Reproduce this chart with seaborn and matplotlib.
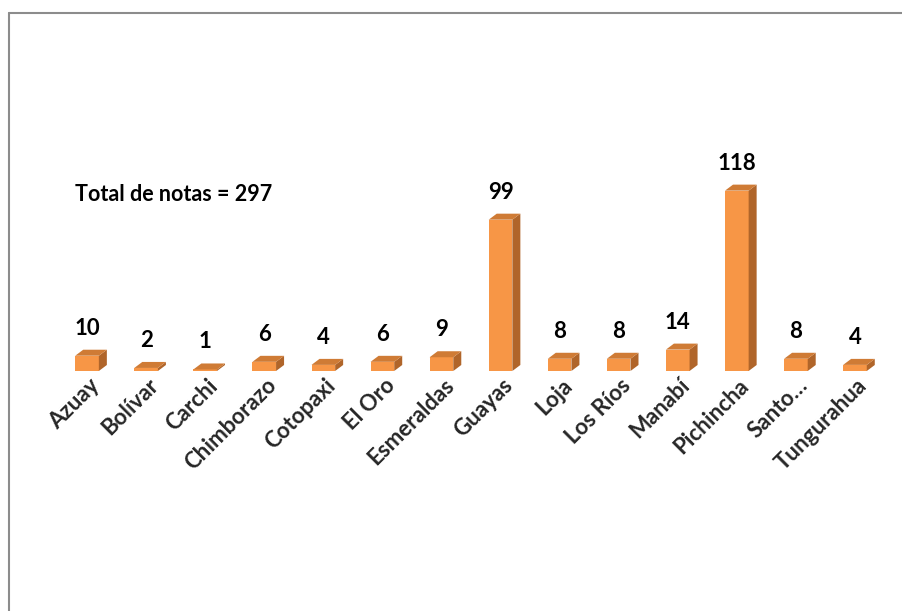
import matplotlib.pyplot as plt
import matplotlib.lines as mlines
import matplotlib.transforms as mtransforms
from matplotlib.patches import Polygon
import pandas as pd
import seaborn as sns

provincias = ['Azuay', 'Bolívar', 'Carchi', 'Chimborazo', 'Cotopaxi', 'El Oro',
              'Esmeraldas', 'Guayas', 'Loja', 'Los Ríos', 'Manabí', 'Pichincha',
              'Santo…', 'Tungurahua']
notas = [10, 2, 1, 6, 4, 6, 9, 99, 8, 8, 14, 118, 8, 4]
total_label = 'Total de notas = 297'

front = '#F79646'
side = '#B0652A'
top = '#CF7B35'

sns.set_theme(style='white')
plt.rcParams['font.family'] = ['Lato', 'DejaVu Sans']

df = pd.DataFrame({'provincia': provincias, 'notas': notas})

fig = plt.figure(figsize=(9.02, 6.11), dpi=100)
ax = fig.add_axes([57.5 / 902, 240 / 611, 827 / 902, 214 / 611])

sns.barplot(data=df, x='provincia', y='notas', color=front, saturation=1,
            width=0.4, ax=ax, linewidth=0)
ax.set_xlim(-0.5, len(provincias) - 0.5)
ax.set_ylim(0, 140)

# fake 3d: side and top faces, offsets in pixels converted to data units
px_x = len(provincias) / 827
px_y = 140 / 214
dx, dy = 8 * px_x, 6 * px_y
for p in ax.patches:
    x0 = p.get_x()
    w = p.get_width()
    h = p.get_height()
    x1 = x0 + w
    ax.add_patch(Polygon([(x1, 0), (x1 + dx, dy), (x1 + dx, h + dy), (x1, h)],
                         closed=True, facecolor=side, edgecolor='none'))
    ax.add_patch(Polygon([(x0, h), (x0 + dx, h + dy), (x1 + dx, h + dy), (x1, h)],
                         closed=True, facecolor=top, edgecolor='none'))
    ax.text(x0 + w / 2, h + dy + 11 * px_y, str(int(h)),
            ha='center', va='bottom', fontsize=16, fontweight='bold', color='black')

ax.text(-0.2, 115.7, total_label, ha='left', va='center', fontsize=15.5,
        fontweight='bold', color='black')

ax.set_xlabel('')
ax.set_ylabel('')
ax.set_yticks([])
ax.set_xticks(range(len(provincias)))
ax.set_xticklabels(provincias, rotation=45, ha='right', va='center',
                   rotation_mode='anchor', fontsize=16, fontweight='bold')
ax.tick_params(axis='x', length=0, pad=8)
shift = mtransforms.ScaledTranslation(9 / 100, 0, fig.dpi_scale_trans)
for lab in ax.get_xticklabels():
    lab.set_transform(lab.get_transform() + shift)
for s in ax.spines.values():
    s.set_visible(False)

# frame of the original picture: only left and top edges show
fig.add_artist(mlines.Line2D([8.5 / 902, 8.5 / 902], [0, 1 - 12.5 / 611],
                             color='#8c8c8c', linewidth=1.5))
fig.add_artist(mlines.Line2D([8.5 / 902, 1], [1 - 12.5 / 611, 1 - 12.5 / 611],
                             color='#8c8c8c', linewidth=1.5))

fig.savefig('out.png', dpi=100)
